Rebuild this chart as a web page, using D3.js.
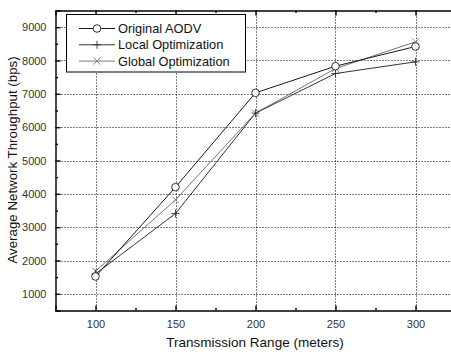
<!DOCTYPE html>
<html><head><meta charset="utf-8">
<script src="https://cdn.jsdelivr.net/npm/d3@7"></script>
<style>body{margin:0;background:#fff}svg{display:block}</style>
</head><body>
<svg id="c" width="451" height="352"></svg>
<script>
const ranges = [100, 150, 200, 250, 300];
const seriesNames = ["Original AODV", "Local Optimization", "Global Optimization"];
const originalAODV = [1520, 4200, 7030, 7830, 8420];
const localOpt = [1600, 3410, 6420, 7610, 7960];
const globalOpt = [1680, 3820, 6420, 7760, 8560];
const xTicks = [100, 150, 200, 250, 300];
const yTicks = [1000, 2000, 3000, 4000, 5000, 6000, 7000, 8000, 9000];
const xLabel = "Transmission Range (meters)";
const yLabel = "Average Network Throughput (bps)";

(function(){
const series = [
  {name: seriesNames[0], values: originalAODV, color: "#1a1a1a", marker: "circle"},
  {name: seriesNames[1], values: localOpt, color: "#333", marker: "plus"},
  {name: seriesNames[2], values: globalOpt, color: "#777", marker: "cross"}
];

const svg = d3.select("#c");
const L = 55.5, T = 10.5, R = 455.5, B = 310.5;
const x = d3.scaleLinear().domain([75, 325]).range([L, R]);
const y = d3.scaleLinear().domain([500, 9500]).range([B, T]);
const font = "Liberation Sans, Arial, sans-serif";

// grid
const g = svg.append("g");
g.selectAll(".vg").data(xTicks).join("line")
  .attr("x1", d => Math.round(x(d)) + 0.5).attr("x2", d => Math.round(x(d)) + 0.5)
  .attr("y1", T).attr("y2", B)
  .attr("stroke", "#000").attr("stroke-width", 1).attr("stroke-dasharray", "1,2");
g.selectAll(".hg").data(yTicks).join("line")
  .attr("y1", d => Math.round(y(d)) + 0.5).attr("y2", d => Math.round(y(d)) + 0.5)
  .attr("x1", L).attr("x2", R)
  .attr("stroke", "#000").attr("stroke-width", 1).attr("stroke-dasharray", "1,2");

// axes (ticks inward)
const minorX = d3.range(125, 325, 50);
const minorY = d3.range(1500, 9500, 1000);
const axB = d3.axisBottom(x).tickValues(xTicks).tickSize(-5).tickPadding(10).tickFormat(d3.format("d"));
const axT = d3.axisTop(x).tickValues(xTicks).tickSize(-5).tickFormat("");
const axL = d3.axisLeft(y).tickValues(yTicks).tickSize(-5).tickPadding(9).tickFormat(d3.format("d"));
function styleAxis(sel){
  sel.select(".domain").attr("stroke", "#000").attr("stroke-width", 1.4);
  sel.selectAll(".tick line").attr("stroke", "#000").attr("stroke-width", 1.4);
  sel.selectAll("text").attr("font-family", font).attr("font-size", 11).attr("fill", "#333");
}
svg.append("g").attr("transform", `translate(0,${B})`).call(axB).call(styleAxis);
svg.append("g").attr("transform", `translate(0,${T})`).call(axT).call(styleAxis);
svg.append("g").attr("transform", `translate(${L},0)`).call(axL).call(styleAxis);
svg.append("g").attr("transform", `translate(0,${B})`).call(d3.axisBottom(x).tickValues(minorX).tickSize(-2.5).tickFormat("")).call(styleAxis).select(".domain").remove();
svg.append("g").attr("transform", `translate(0,${T})`).call(d3.axisTop(x).tickValues(minorX).tickSize(-2.5).tickFormat("")).call(styleAxis).select(".domain").remove();
svg.append("g").attr("transform", `translate(${L},0)`).call(d3.axisLeft(y).tickValues(minorY).tickSize(-2.5).tickFormat("")).call(styleAxis).select(".domain").remove();

// lines
const line = d3.line().x((d, i) => x(ranges[i])).y(d => y(d));
function drawMarker(sel, type, cx, cy, color){
  if (type === "circle") {
    sel.append("circle").attr("cx", cx).attr("cy", cy).attr("r", 3.8)
      .attr("fill", "#fff").attr("stroke", color).attr("stroke-width", 0.9);
  } else if (type === "plus") {
    sel.append("path").attr("d", `M${cx-4},${cy}H${cx+4}M${cx},${cy-4}V${cy+4}`)
      .attr("stroke", color).attr("stroke-width", 0.9).attr("fill", "none");
  } else {
    sel.append("path").attr("d", `M${cx-3.5},${cy-3.5}L${cx+3.5},${cy+3.5}M${cx-3.5},${cy+3.5}L${cx+3.5},${cy-3.5}`)
      .attr("stroke", color).attr("stroke-width", 0.9).attr("fill", "none");
  }
}
const drawOrder = [2, 1, 0];
drawOrder.forEach(k => {
  const s = series[k];
  svg.append("path").datum(s.values).attr("d", line)
    .attr("fill", "none").attr("stroke", s.color).attr("stroke-width", 1);
});
drawOrder.forEach(k => {
  const s = series[k];
  const mg = svg.append("g");
  s.values.forEach((v, i) => drawMarker(mg, s.marker, x(ranges[i]), y(v), s.color));
});

// legend
const lg = svg.append("g");
lg.append("rect").attr("x", 66.5).attr("y", 14.5).attr("width", 179).attr("height", 57.5)
  .attr("fill", "#fff").attr("stroke", "#000").attr("stroke-width", 1);
series.forEach((s, i) => {
  const yy = 28.5 + i * 16.3;
  lg.append("line").attr("x1", 79).attr("x2", 115).attr("y1", yy).attr("y2", yy)
    .attr("stroke", s.color).attr("stroke-width", 1);
  drawMarker(lg, s.marker, 97, yy, s.color);
  lg.append("text").attr("x", 118).attr("y", yy + 4.4).text(s.name)
    .attr("font-family", font).attr("font-size", 12.8).attr("fill", "#111");
});

// axis titles
svg.append("text").attr("x", 255).attr("y", 347).attr("text-anchor", "middle")
  .attr("font-family", font).attr("font-size", 13.5).attr("fill", "#111").text(xLabel);
svg.append("text").attr("transform", "translate(17,160) rotate(-90)").attr("text-anchor", "middle")
  .attr("font-family", font).attr("font-size", 13.3).attr("fill", "#111").text(yLabel);
})();
</script>
</body></html>
